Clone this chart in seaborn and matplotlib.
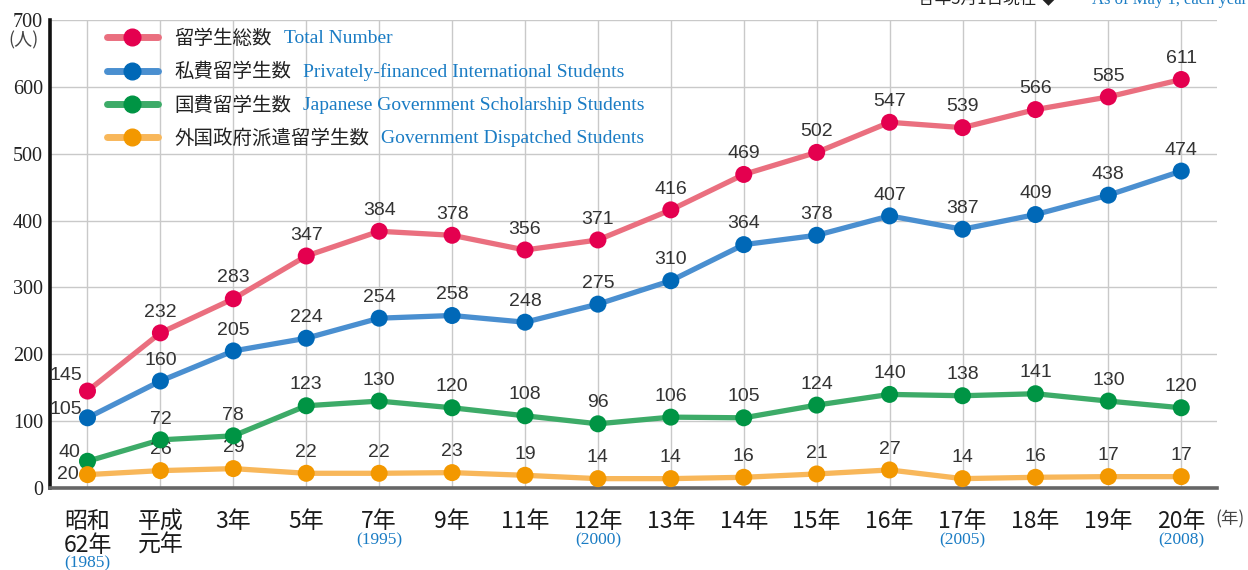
import numpy as np
import pandas as pd
import seaborn as sns
import matplotlib.pyplot as plt
from matplotlib.lines import Line2D

# data
years = ['昭和\n62年', '平成\n元年', '3年', '5年', '7年', '9年', '11年', '12年',
         '13年', '14年', '15年', '16年', '17年', '18年', '19年', '20年']
total = [145, 232, 283, 347, 384, 378, 356, 371, 416, 469, 502, 547, 539, 566, 585, 611]
private = [105, 160, 205, 224, 254, 258, 248, 275, 310, 364, 378, 407, 387, 409, 438, 474]
govt = [40, 72, 78, 123, 130, 120, 108, 96, 106, 105, 124, 140, 138, 141, 130, 120]
dispatched = [20, 26, 29, 22, 22, 23, 19, 14, 14, 16, 21, 27, 14, 16, 17, 17]
west_years = {0: '(1985)', 4: '(1995)', 7: '(2000)', 12: '(2005)', 15: '(2008)'}

series_jp = ['留学生総数', '私費留学生数', '国費留学生数', '外国政府派遣留学生数']
series_en = ['Total Number', 'Privately-financed International Students',
             'Japanese Government Scholarship Students', 'Government Dispatched Students']
line_colors = ['#ea6f7f', '#4a8fd0', '#3dab68', '#f8b75a']
dot_colors = ['#e4004f', '#0068b7', '#009444', '#f39800']
# offsets (points) of the first label, which sits left of its dot
first_offsets = [(-4, 11), (-4, 6), (-5, 6), (-6, 0)]

sns.set_style('white')
plt.rcParams['font.family'] = ['Noto Sans CJK JP', 'DejaVu Sans']

rows = []
for name, vals in zip(series_jp, [total, private, govt, dispatched]):
    for i, v in enumerate(vals):
        rows.append({'idx': i, 'value': v, 'series': name})
df = pd.DataFrame(rows)

fig = plt.figure(figsize=(12.48, 5.7), dpi=100)
ax = fig.add_axes([50 / 1248, 82 / 570, 1167 / 1248, 468 / 570])

sns.lineplot(data=df, x='idx', y='value', hue='series', palette=line_colors,
             linewidth=3.8, legend=False, ax=ax, zorder=3)
sns.scatterplot(data=df, x='idx', y='value', hue='series', palette=dot_colors,
                s=150, edgecolor='none', legend=False, ax=ax, zorder=4)

# value labels
for vals, off in zip([total, private, govt, dispatched], first_offsets):
    for i, v in enumerate(vals):
        if i == 0:
            ax.annotate(str(v), (i, v), xytext=off, textcoords='offset points',
                        ha='right', va='center', fontsize=14, color='#333333',
                        family='Liberation Sans')
        else:
            ax.annotate(str(v), (i, v), xytext=(0, 15), textcoords='offset points',
                        ha='center', va='center', fontsize=14, color='#333333',
                        family='Liberation Sans')

ax.set_xlim(-0.514, 15.49)
ax.set_ylim(0, 700)
ax.set_xticks(range(len(years)))
ax.set_xticklabels(years, fontsize=16.5, color='#1a1a1a', linespacing=1.05)
ax.set_yticks(range(0, 701, 100))
ax.set_yticklabels([str(v) for v in range(0, 701, 100)], family='Liberation Serif',
                   fontsize=14.5, color='#222222')
ax.tick_params(axis='x', length=0, pad=16)
ax.tick_params(axis='y', length=0, pad=5)
ax.set_xlabel('')
ax.set_ylabel('')
ax.grid(True, color='#c9c9c9', linewidth=1)
ax.set_axisbelow(True)
for s in ['top', 'right']:
    ax.spines[s].set_visible(False)
ax.spines['left'].set_color('#111111')
ax.spines['left'].set_linewidth(2.6)
ax.spines['bottom'].set_color('#666666')
ax.spines['bottom'].set_linewidth(2.6)

# western years under ticks
for i, t in west_years.items():
    yy = -0.162 if i == 0 else -0.113
    ax.text(i, yy, t, transform=ax.get_xaxis_transform(), ha='center', va='center',
            family='Liberation Serif', fontsize=12.5, color='#1a7cc4')

fig.text(1245 / 1248, 1 - 519 / 570, '(年)', ha='right', va='center',
         family='Noto Sans CJK JP', fontsize=12.5, color='#444444')
fig.text(23 / 1248, 1 - 40 / 570, '(人)', ha='center', va='center',
         family='Noto Sans CJK JP', fontsize=13, color='#444444')
fig.text(918 / 1248, 1.0, '各年5月1日現在 ◆', ha='left', va='center',
         fontsize=12, color='#222222')
fig.text(1092 / 1248, 1.0, 'As of May 1, each year', ha='left', va='center',
         family='Liberation Serif', fontsize=12, color='#1a7cc4')

# legend
handles = [Line2D([0], [0], color=lc, lw=5, marker='o', markersize=12,
                  markerfacecolor=dc, markeredgecolor=dc)
           for lc, dc in zip(line_colors, dot_colors)]
leg = ax.legend(handles, series_jp, loc='upper left', bbox_to_anchor=(0.049, 0.983),
                frameon=False, fontsize=14, handlelength=2.6, handletextpad=0.85,
                labelspacing=0.64, borderpad=0, borderaxespad=0)
for t in leg.get_texts():
    t.set_color('#222222')

fig.canvas.draw()
renderer = fig.canvas.get_renderer()
for t, en in zip(leg.get_texts(), series_en):
    bb = t.get_window_extent(renderer)
    fig.text((bb.x1 + 12) / fig.bbox.width, (bb.y0 + bb.y1) / 2 / fig.bbox.height, en,
             ha='left', va='center', family='Liberation Serif', fontsize=14,
             color='#1a7cc4')

fig.savefig('out.png', dpi=100)
